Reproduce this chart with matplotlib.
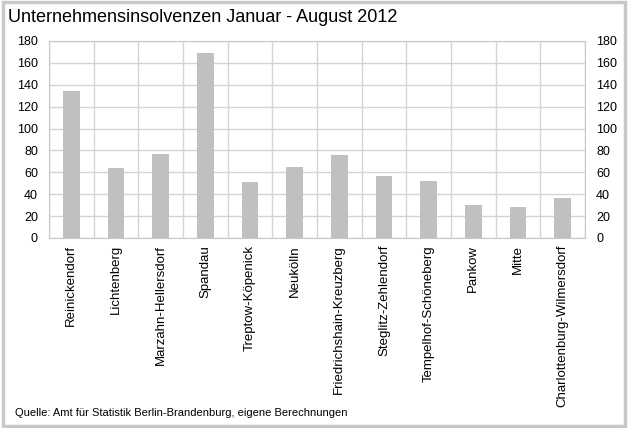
import matplotlib
matplotlib.use('agg')
import matplotlib.pyplot as plt
from matplotlib.patches import Rectangle
import numpy as np

districts = ['Reinickendorf', 'Lichtenberg', 'Marzahn-Hellersdorf', 'Spandau',
             'Treptow-Köpenick', 'Neukölln', 'Friedrichshain-Kreuzberg',
             'Steglitz-Zehlendorf', 'Tempelhof-Schöneberg', 'Pankow', 'Mitte',
             'Charlottenburg-Wilmersdorf']
insolvenzen = [134, 64, 77, 169, 51, 65, 76, 57, 52, 30, 28, 37]
yticks = [0, 20, 40, 60, 80, 100, 120, 140, 160, 180]

plt.rcParams['font.family'] = ['Liberation Sans', 'DejaVu Sans']

W, H = 628, 428
fig = plt.figure(figsize=(W / 100, H / 100), dpi=100)
fig.patch.set_facecolor('white')

# plot area in pixels: left 49, right 585, top 41, bottom 238
ax = fig.add_axes([49 / W, 1 - 238 / H, (585 - 49) / W, (238 - 41) / H])

x = np.arange(len(districts))
ax.bar(x, insolvenzen, width=0.38, color='#c0c0c0', zorder=3)

ax.set_xlim(-0.5, len(districts) - 0.5)
ax.set_ylim(0, 180)
ax.set_yticks(yticks)
ax.set_xticks(x)
ax.set_xticklabels(districts, rotation=90, fontsize=9.5)
ax.set_xticks(np.arange(len(districts) + 1) - 0.5, minor=True)

ax.grid(axis='y', color='#d4d4d4', linewidth=1, zorder=0)
ax.grid(axis='x', which='minor', color='#d4d4d4', linewidth=1, zorder=0)
ax.tick_params(axis='x', which='both', length=0, pad=5)
ax.tick_params(axis='y', length=0, labelsize=9, pad=8,
               labelleft=True, labelright=True)
for s in ax.spines.values():
    s.set_color('#c8c8c8')

fig.text(8 / W, 1 - 17 / H, 'Unternehmensinsolvenzen Januar - August 2012',
         fontsize=13, va='center', ha='left')
fig.text(15 / W, 1 - 413 / H,
         'Quelle: Amt für Statistik Berlin-Brandenburg, eigene Berechnungen',
         fontsize=8, va='center', ha='left')

# outer frame
fig.patches.append(Rectangle((0.004, 0.004), 0.992, 0.992, transform=fig.transFigure,
                             fill=False, edgecolor='#c8c8c8', linewidth=2.5))

fig.savefig('out.png', dpi=100)
